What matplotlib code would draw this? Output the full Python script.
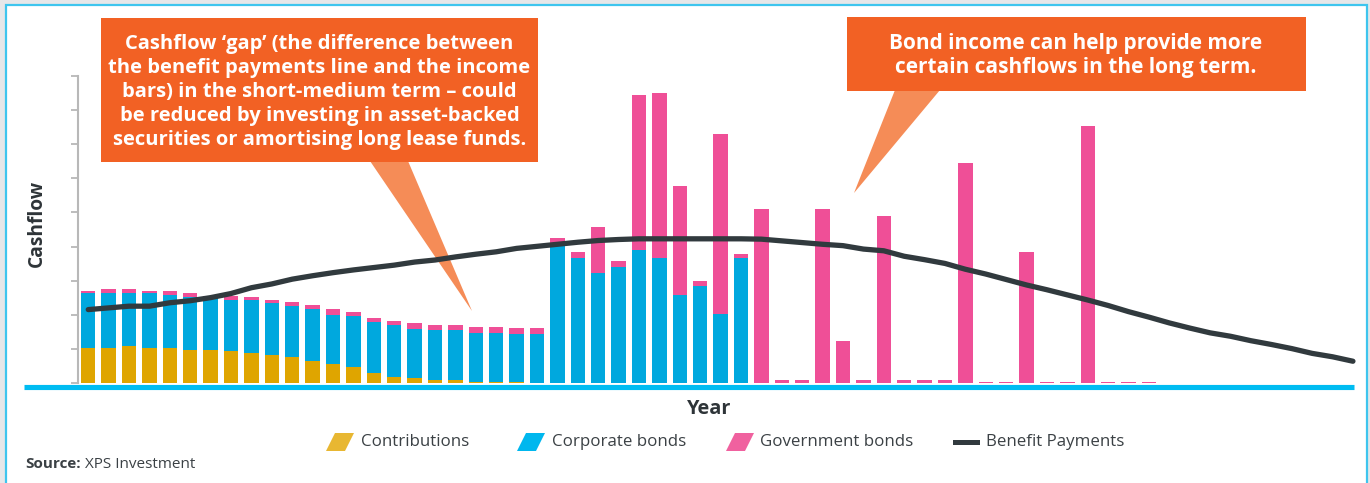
import numpy as np
import matplotlib.pyplot as plt
from matplotlib.patches import Rectangle, Polygon
from matplotlib.lines import Line2D

plt.rcParams['font.family'] = ['Open Sans', 'DejaVu Sans']

# values (units = one y tick)
contributions = [1.04, 1.03, 1.09, 1.03, 1.03, 0.98, 0.98, 0.94, 0.89, 0.83, 0.77, 0.67,
                 0.56, 0.47, 0.30, 0.20, 0.15, 0.10, 0.10, 0.05, 0.05, 0.05, 0, 0, 0, 0,
                 0, 0, 0, 0, 0, 0, 0, 0, 0, 0, 0, 0, 0, 0, 0, 0, 0, 0, 0, 0, 0, 0, 0, 0,
                 0, 0, 0]
corporate = [1.61, 1.62, 1.56, 1.63, 1.57, 1.55, 1.52, 1.50, 1.55, 1.51, 1.50, 1.51,
             1.45, 1.49, 1.51, 1.50, 1.45, 1.45, 1.45, 1.44, 1.44, 1.40, 1.45, 4.01,
             3.68, 3.22, 3.42, 3.89, 3.68, 2.59, 2.85, 2.02, 3.68, 0, 0, 0, 0, 0, 0, 0,
             0, 0, 0, 0, 0, 0, 0, 0, 0, 0, 0, 0, 0]
government = [0.06, 0.11, 0.11, 0.05, 0.11, 0.12, 0.07, 0.11, 0.10, 0.10, 0.12, 0.11,
              0.17, 0.12, 0.11, 0.12, 0.16, 0.15, 0.15, 0.17, 0.17, 0.16, 0.16, 0.24,
              0.16, 1.35, 0.16, 4.54, 4.80, 3.18, 0.16, 5.27, 0.11, 5.10, 0.10, 0.10,
              5.10, 1.25, 0.10, 4.89, 0.10, 0.10, 0.10, 6.45, 0.05, 0.05, 3.84, 0.05,
              0.05, 7.54, 0.05, 0.05, 0.05]
benefit = [2.16, 2.21, 2.26, 2.26, 2.36, 2.42, 2.51, 2.63, 2.80, 2.91, 3.05, 3.15,
           3.24, 3.32, 3.39, 3.46, 3.55, 3.61, 3.70, 3.78, 3.85, 3.95, 4.01, 4.07,
           4.13, 4.18, 4.21, 4.23, 4.23, 4.23, 4.23, 4.23, 4.23, 4.22, 4.17, 4.12,
           4.07, 4.03, 3.93, 3.88, 3.72, 3.62, 3.51, 3.34, 3.20, 3.04, 2.88, 2.74,
           2.59, 2.44, 2.28, 2.10, 1.94, 1.77, 1.62, 1.48, 1.38, 1.25, 1.14, 1.02,
           0.88, 0.78, 0.65]

legend_labels = ['Contributions', 'Corporate bonds', 'Government bonds', 'Benefit Payments']

c_contrib = '#dfa500'
c_corp = '#00a8de'
c_gov = '#ef4f97'
c_line = '#313a3e'
c_orange = '#f26124'
c_orange_light = '#f58c57'
c_text = '#3b4145'

W, H = 1370, 483
fig = plt.figure(figsize=(W / 100, H / 100), dpi=100, facecolor='#e6e7e9')


def fx(x):
    return x / W


def fy(y):
    return 1 - y / H


# white panel with cyan frame
fig.add_artist(Rectangle((fx(6), fy(495)), 1361 / W, 490 / H, transform=fig.transFigure,
                         facecolor='white', edgecolor='#3ec5ee', lw=1.6, zorder=-2))

# callout pointers (under the line)
fig.add_artist(Polygon([(fx(370), fy(161)), (fx(408), fy(161)), (fx(472), fy(311))],
                       closed=True, transform=fig.transFigure, facecolor=c_orange_light,
                       edgecolor='none', zorder=-1))
fig.add_artist(Polygon([(fx(895), fy(90)), (fx(940), fy(90)), (fx(854), fy(193))],
                       closed=True, transform=fig.transFigure, facecolor=c_orange_light,
                       edgecolor='none', zorder=-1))

ax = fig.add_axes([fx(78), fy(390.3), (1356 - 78) / W, (390.3 - 75.7) / H])
ax.set_facecolor('none')

x = np.arange(len(contributions))
bottom2 = np.array(contributions) + np.array(corporate)
ax.bar(x, contributions, width=0.71, color=c_contrib)
ax.bar(x, corporate, width=0.71, bottom=contributions, color=c_corp)
ax.bar(x, government, width=0.71, bottom=bottom2, color=c_gov)
ax.plot(np.arange(len(benefit)), benefit, color=c_line, lw=3.8,
        solid_capstyle='round', solid_joinstyle='round', zorder=4, clip_on=False)

ax.set_xlim(-0.502, 62.15)
ax.set_ylim(-0.2, 9)
ax.set_xticks([])
ax.set_yticks(range(10))
ax.set_yticklabels([])
ax.tick_params(axis='y', length=5, width=1.3, color='#b8b8b8', direction='out')
for s in ['top', 'right', 'bottom']:
    ax.spines[s].set_visible(False)
ax.spines['left'].set_color('#b8b8b8')
ax.spines['left'].set_linewidth(1.5)
ax.spines['left'].set_bounds(0, 9)

# cyan baseline
fig.add_artist(Line2D([fx(24), fx(1354)], [fy(386.5), fy(386.5)], transform=fig.transFigure,
                      color='#00bcf2', lw=3.7, solid_capstyle='butt', zorder=3))

renderer = fig.canvas.get_renderer()


def fit_size(txt, weight, width_px, start=12):
    t = fig.text(0, 0, txt, fontsize=start, fontweight=weight)
    w = t.get_window_extent(renderer).width
    t.remove()
    return start * width_px / w


# callout boxes
fig.add_artist(Rectangle((fx(101), fy(162)), 437 / W, 144 / H, transform=fig.transFigure,
                         facecolor=c_orange, edgecolor='none', zorder=5))
fig.add_artist(Rectangle((fx(847), fy(91)), 459 / W, 74 / H, transform=fig.transFigure,
                         facecolor=c_orange, edgecolor='none', zorder=5))

box1 = ['Cashflow \u2018gap\u2019 (the difference between',
        'the benefit payments line and the income',
        'bars) in the short-medium term \u2013 could',
        'be reduced by investing in asset-backed',
        'securities or amortising long lease funds.']
s1 = fit_size(box1[0], 'bold', 388)
for k, line in enumerate(box1):
    fig.text(fx(319.5), fy(44.3 + 24 * k), line, fontsize=s1, fontweight='bold',
             color='white', ha='center', va='center', zorder=6)

box2 = ['Bond income can help provide more', 'certain cashflows in the long term.']
s2 = fit_size(box2[0], 'bold', 372)
for k, line in enumerate(box2):
    fig.text(fx(1076), fy(43.3 + 24 * k), line, fontsize=s2, fontweight='bold',
             color='white', ha='center', va='center', zorder=6)

# axis titles
fig.text(fx(37), fy(223), 'Cashflow', rotation=90, fontsize=fit_size('Cashflow', 'bold', 87),
         fontweight='bold', color='#2e3438', ha='center', va='center')
fig.text(fx(709), fy(409), 'Year', fontsize=fit_size('Year', 'bold', 44),
         fontweight='bold', color='#2e3438', ha='center', va='center')

# legend
ls = fit_size(legend_labels[0], 'normal', 107)
icon_x = [326, 517, 726]
icon_c = ['#e8b732', '#00b7ee', '#f0619f']
for ix, ic in zip(icon_x, icon_c):
    fig.add_artist(Polygon([(fx(ix), fy(451)), (fx(ix + 19), fy(451)),
                            (fx(ix + 28), fy(433)), (fx(ix + 9), fy(433))],
                           closed=True, transform=fig.transFigure, facecolor=ic,
                           edgecolor='none'))
fig.add_artist(Rectangle((fx(953), fy(445)), 27 / W, 5 / H, transform=fig.transFigure,
                         facecolor=c_line, edgecolor='none'))
for tx, lab in zip([361, 552, 760, 986], legend_labels):
    fig.text(fx(tx), fy(442), lab, fontsize=ls, color=c_text, ha='left', va='center')

# source
src = fig.text(fx(25), fy(464.5), 'Source:', fontsize=11, fontweight='bold',
               color=c_text, ha='left', va='center')
bb = src.get_window_extent(renderer)
fig.text(bb.x1 / W + fx(4), fy(464.5), 'XPS Investment', fontsize=11,
         color=c_text, ha='left', va='center')

fig.savefig('out.png', dpi=100, facecolor=fig.get_facecolor())
